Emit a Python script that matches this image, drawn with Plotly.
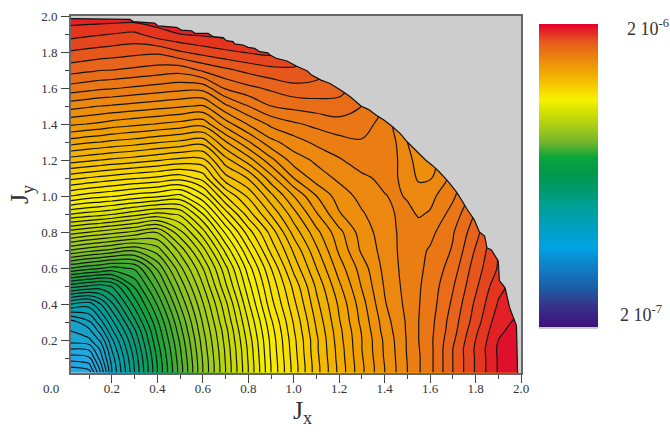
import numpy as np
import plotly.graph_objects as go

# Grid of the map
jx = [0.02, 0.1, 0.15, 0.2, 0.3, 0.4, 0.5, 0.6, 0.7, 0.8, 0.9, 1.0, 1.1, 1.2, 1.3, 1.4, 1.45, 1.5, 1.55, 1.6, 1.7, 1.8, 1.9, 2.0]
jy = [0.02, 0.05, 0.1, 0.15, 0.2, 0.25, 0.3, 0.4, 0.5, 0.6, 0.7, 0.8, 0.9, 1.0, 1.1, 1.2, 1.3, 1.4, 1.5, 1.6, 1.7, 1.8, 1.9, 2.0]

# Number of contour lines below the top of the scale, read per row of Jy
n_002 = [64, 63.5, 60, 56, 51, 46, 41.5, 37, 33, 29, 25, 21.6, 18.4, 15.7, 13.2, 11, 10, 9, 8.1, 7.3, 5, 2.9, 0.9, -1]
n_005 = [63, 62.5, 59.5, 55.9, 50.9, 46, 41.5, 37, 33, 29, 25, 21.6, 18.4, 15.7, 13.2, 11, 10, 9, 8.1, 7.3, 5, 2.9, 0.9, -1]
n_010 = [61.5, 61.2, 58.5, 55.5, 50.7, 45.8, 41.3, 36.9, 32.9, 28.9, 24.9, 21.5, 18.3, 15.6, 13.1, 10.9, 9.95, 8.95, 8.1, 7.3, 5, 2.9, 0.9, -1]
n_015 = [60, 59.8, 57.8, 54.9, 50.3, 45.5, 41.1, 36.7, 32.8, 28.8, 24.8, 21.4, 18.2, 15.55, 13, 10.85, 9.9, 8.9, 8.05, 7.3, 5, 2.85, 0.85, -1]
n_020 = [58.5, 58.2, 56.8, 54.2, 49.8, 45.1, 40.8, 36.5, 32.6, 28.6, 24.7, 21.3, 18.2, 15.4, 13, 10.8, 9.85, 8.9, 8, 7.25, 5.2, 3, 1, 0]
n_025 = [58, 57.3, 55.6, 53.2, 49.2, 44.7, 40.4, 36.2, 32.4, 28.3, 24.5, 21.1, 18, 15.3, 12.9, 10.6, 9.75, 8.85, 8, 7.3, 5.4, 3.2, 1.2, 0.5]
n_030 = [57.5, 56.2, 54.4, 52.3, 48.3, 44.2, 40, 35.9, 32, 28, 24.2, 20.9, 17.8, 15.1, 12.7, 10.5, 9.6, 8.85, 8, 7.35, 5.5, 3.5, 1.4, 0.7]
n_040 = [53, 53.5, 52, 50.2, 46.6, 42.9, 38.9, 35.1, 31.3, 27.2, 23.4, 20.3, 17.3, 14.8, 12.4, 10.1, 9.4, 8.7, 8.05, 7.5, 5.8, 3.8, 1.9, 1.2]
n_050 = [47.5, 48.1, 48.4, 47.9, 44.8, 41.4, 37.7, 34.1, 30.2, 26.4, 22.8, 19.7, 16.8, 14.2, 11.9, 9.9, 9.25, 8.6, 8.1, 7.6, 6.1, 4.2, 2.3, 1.5]
n_060 = [42, 42.6, 42.9, 43.3, 42.8, 39.8, 36.3, 33, 29.3, 25.5, 22, 18.7, 16, 13.5, 11.5, 9.7, 9.15, 8.5, 8.15, 7.8, 6.5, 4.5, 2.9, 1.8]
n_070 = [37, 37.6, 37.9, 38.2, 38.8, 37.5, 34.6, 31.4, 27.7, 24.1, 20.7, 17.8, 15.2, 12.8, 10.8, 9.6, 9.05, 8.6, 8.25, 7.9, 6.9, 4.9, 3, 2]
n_080 = [32.5, 33, 33.3, 33.6, 34.2, 34.9, 32.3, 29.4, 25.8, 22.5, 19.6, 16.6, 14.3, 12.3, 10.5, 9.5, 9.02, 8.7, 8.6, 8.3, 7.1, 5.4, 3.3, 2.2]
n_090 = [28, 28.4, 28.6, 28.9, 29.6, 30.3, 29.8, 27, 23.5, 20.5, 17.9, 15.4, 13.1, 11.1, 10.1, 9.4, 8.95, 8.75, 9.1, 8.9, 7.6, 5.9, 3.6, 2.4]
n_100 = [24, 24.5, 24.7, 24.9, 25.4, 25.8, 26.3, 24.3, 21, 18.8, 16.3, 14, 12, 10.5, 9.7, 9.05, 8.85, 9.1, 9.5, 9.3, 8.2, 6.5, 4.5, 3]
n_110 = [20.7, 21.1, 21.3, 21.5, 21.9, 22.2, 22.6, 21.6, 18.4, 16.9, 14.4, 12, 10.5, 9.8, 9.2, 8.75, 8.9, 9.5, 10.15, 10.1, 8.7, 7, 5, 3.5]
n_120 = [17.5, 17.8, 18, 18.2, 18.5, 18.9, 19.3, 19.3, 16.4, 14.5, 12.3, 10.5, 9.8, 9.1, 8.5, 8.7, 8.9, 9.6, 10.5, 10.4, 9, 7.5, 6, 4.5]
n_130 = [14.5, 14.85, 15, 15.2, 15.5, 15.9, 16.2, 16.6, 14.1, 12.1, 10.3, 9.45, 8.75, 8.35, 8.1, 8.35, 9, 10, 10.5, 10, 9, 8, 6.5, 5]
n_140 = [11.8, 12.05, 12.2, 12.45, 12.75, 13.05, 13.35, 13.65, 11.5, 9.9, 8.75, 8.15, 7.75, 7.4, 7.55, 8.4, 9.3, 10.4, 10.4, 9.5, 8.5, 7.5, 6, 5]
n_150 = [9.6, 9.85, 10, 10.1, 10.35, 10.6, 10.85, 11.1, 9.2, 8, 7, 6.7, 6.5, 6.4, 7, 8, 9.2, 10, 9.8, 9, 8, 7, 6, 5]
n_160 = [7.4, 7.65, 7.8, 7.9, 8.15, 8.4, 8.65, 8.6, 6.85, 6.25, 5.8, 5.3, 5.3, 5.6, 6.5, 7.5, 8.5, 9, 9, 8.5, 7.5, 6.5, 5.5, 4.5]
n_170 = [5.6, 5.8, 5.95, 6, 6.2, 6.45, 6.6, 5.8, 5.2, 4.7, 4.3, 4.2, 4.6, 5.2, 5.8, 7, 8, 8.5, 8.3, 8, 7, 6, 5, 4]
n_180 = [4.1, 4.3, 4.4, 4.5, 4.7, 4.8, 4.1, 3.6, 3.2, 2.9, 2.7, 3, 3.5, 3.8, 4.3, 6, 7, 7.5, 7.3, 7, 6.5, 5.5, 4.5, 3.5]
n_190 = [2.6, 2.8, 2.9, 3, 3.2, 2.4, 2, 1.8, 1.6, 1.3, 1.2, 1.8, 2.5, 3, 3.6, 5, 6, 6.5, 6.3, 6, 5.5, 5, 4, 3]
n_200 = [1.3, 1.3, 1.3, 1.3, 1.3, 1.3, 1.3, 1.3, 1.2, 1.1, 1.1, 1.1, 1.5, 2, 3, 4, 5, 5.5, 5.3, 5, 4.5, 4, 3.5, 3]

rows = [n_002, n_005, n_010, n_015, n_020, n_025, n_030, n_040, n_050, n_060, n_070, n_080,
        n_090, n_100, n_110, n_120, n_130, n_140, n_150, n_160, n_170, n_180, n_190, n_200]

# Edge of the computed domain (staircase)
edge_x = [0.02, 0.279, 0.294, 0.388, 0.403, 0.484, 0.506, 0.55, 0.565, 0.623, 0.645, 0.689, 0.704, 0.733, 0.74, 0.777, 0.799, 0.828, 0.85, 0.885, 0.9, 0.923, 0.97, 1.011, 1.06, 1.075, 1.12, 1.16, 1.216, 1.25, 1.296, 1.33, 1.362, 1.4, 1.435, 1.47, 1.5, 1.54, 1.58, 1.61, 1.64, 1.68, 1.715, 1.74, 1.76, 1.795, 1.817, 1.84, 1.85, 1.87, 1.9, 1.905, 1.93, 1.95, 1.98, 1.985]
edge_y = [1.985, 1.981, 1.969, 1.96, 1.945, 1.937, 1.922, 1.918, 1.904, 1.904, 1.886, 1.88, 1.863, 1.858, 1.845, 1.839, 1.826, 1.82, 1.802, 1.795, 1.78, 1.765, 1.75, 1.722, 1.695, 1.675, 1.644, 1.625, 1.58, 1.55, 1.5, 1.48, 1.45, 1.42, 1.385, 1.345, 1.3, 1.25, 1.2, 1.17, 1.135, 1.08, 1.024, 0.975, 0.932, 0.867, 0.8, 0.778, 0.713, 0.7, 0.64, 0.53, 0.49, 0.38, 0.28, 0.017]

# Colours of the map per contour count
map_n = [0, 1, 2, 3, 5, 9, 13, 17, 21, 25, 29, 33, 37, 41, 45, 50, 53, 56, 60, 64]
map_c = ["#e0102c", "#e4301f", "#e63a1f", "#e6501d", "#e9681a", "#ec8a0f", "#f0a000", "#f3bb00", "#f8dc00", "#f7f000", "#d8e000",
         "#b5d410", "#8cc423", "#50b030", "#12a23c", "#0a9a78", "#00a0a0", "#10a0c0", "#20a8e0", "#20a8e8"]

# Colour bar stops
bar_t = [0, 0.077, 0.132, 0.198, 0.264, 0.33, 0.396, 0.45, 0.507, 0.56, 0.606, 0.66, 0.716, 0.75, 0.793, 0.837, 0.88, 0.94, 1]
bar_c = ["#3f0f7c", "#35388c", "#1a60a8", "#0f80c8", "#00a3e4", "#009fbe", "#00a098", "#009a70", "#00994a", "#0aa63c",
         "#6cb42c", "#a8cc18", "#d8e400", "#f7f200", "#f6cc00", "#f0aa00", "#ec8a0c", "#e65a1e", "#e4002b"]

FONT = "Liberation Serif"
TXT = "#333333"
W, H = 670, 432
L, R, T, B = 71, 521, 16, 373


def px(v):
    return (v - L) / (R - L)


def py(v):
    return (B - v) / (B - T)


top = 95
low = top - max(map_n)
z = top - np.array(rows, dtype=float)
scale = sorted(((top - n - low) / (top - low), c) for n, c in zip(map_n, map_c))

fig = go.Figure()
fig.add_trace(go.Contour(
    x=jx, y=jy, z=z, zmin=low, zmax=top, colorscale=scale, showscale=False,
    contours=dict(coloring="fill", start=low, end=top - 1, size=1, showlines=True),
    line=dict(color="#141414", width=1.2, smoothing=1.0), hoverinfo="skip",
))
fig.add_trace(go.Scatter(
    x=edge_x + [2.0, 2.0, 0.02], y=edge_y + [0.017, 2.0, 2.0], mode="lines", fill="toself",
    fillcolor="#cdcdcd", line=dict(width=0), hoverinfo="skip", showlegend=False,
))
fig.add_trace(go.Scatter(
    x=edge_x, y=edge_y, mode="lines", line=dict(color="#111111", width=1.2), hoverinfo="skip", showlegend=False,
))
fig.add_trace(go.Scatter(
    x=[None], y=[None], mode="markers", showlegend=False, hoverinfo="skip",
    marker=dict(
        color=[0], cmin=0, cmax=1, colorscale=list(zip(bar_t, bar_c)), showscale=True,
        colorbar=dict(
            x=px(539), xanchor="left", xpad=0, ypad=0, thickness=59, thicknessmode="pixels",
            len=(327 - 24) / (B - T), lenmode="fraction", y=py(327), yanchor="bottom",
            outlinewidth=0, ticks="", showticklabels=False,
        ),
    ),
))

axis = dict(
    showgrid=False, zeroline=False, showline=True, mirror=True, linecolor="#666666", linewidth=2,
    ticks="outside", ticklen=8, tickwidth=1.2, tickcolor="#444444", dtick=0.2, tick0=0, tickformat=".1f",
    tickfont=dict(family=FONT, size=13, color=TXT), automargin=False,
    minor=dict(ticks="outside", ticklen=4, tickwidth=1, tickcolor="#444444", dtick=0.1, tick0=0),
)
fig.update_layout(
    width=W, height=H, margin=dict(l=L, r=W - R, t=T, b=H - B, autoexpand=False), autosize=False,
    paper_bgcolor="white", plot_bgcolor="#cdcdcd", showlegend=False,
    font=dict(family=FONT, color=TXT),
    xaxis=dict(axis, range=[0.02, 2.0], ticklabelstandoff=-6,
               title=dict(text="&nbsp;&nbsp;J<sub>x</sub>", standoff=6, font=dict(family=FONT, size=26, color=TXT))),
    yaxis=dict(axis, range=[0.017, 2.0], ticklabelstandoff=1,
               title=dict(text="J<sub>y</sub>", standoff=5, font=dict(family=FONT, size=26, color=TXT))),
    annotations=[
        dict(text="0.0", x=px(51), y=py(388), xref="paper", yref="paper", showarrow=False,
             xanchor="center", yanchor="middle", font=dict(family=FONT, size=13, color=TXT)),
        dict(text="2 10<sup>-6</sup>", x=px(625), y=py(27), xref="paper", yref="paper", showarrow=False,
             xanchor="left", yanchor="middle", font=dict(family=FONT, size=18, color=TXT)),
        dict(text="2 10<sup>-7</sup>", x=px(618), y=py(313), xref="paper", yref="paper", showarrow=False,
             xanchor="left", yanchor="middle", font=dict(family=FONT, size=18, color=TXT)),
    ],
    shapes=[dict(type="rect", xref="paper", yref="paper", x0=px(539), x1=px(598), y0=py(329), y1=py(327),
                 fillcolor="#cdcdcd", line=dict(width=0))],
)
fig.write_html("out.html", config=dict(displayModeBar=False), post_script="document.body.style.margin='0';")
